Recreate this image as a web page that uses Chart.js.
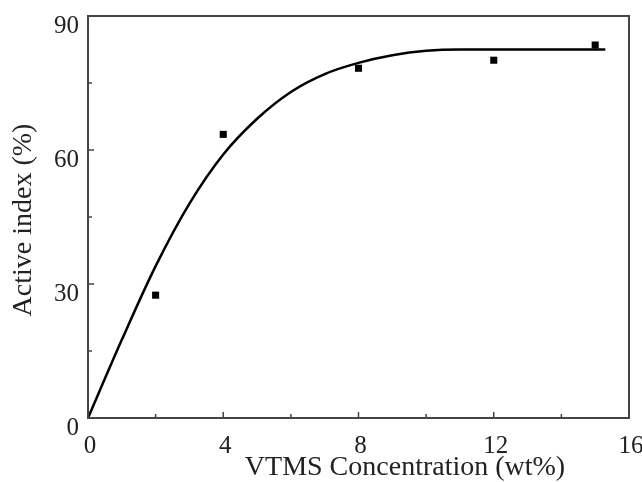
<!DOCTYPE html>
<html>
<head>
<meta charset="utf-8">
<script src="https://cdn.jsdelivr.net/npm/chart.js@4.4.1/dist/chart.umd.min.js"></script>
<style>
  html, body { margin: 0; padding: 0; background: #fff; }
  #wrap { width: 642px; height: 482px; }
</style>
</head>
<body>
<div id="wrap"><canvas id="grafico" width="642" height="482"></canvas></div>
<script>
// dados medidos (pontos quadrados)
const concentracao = [2, 4, 8, 12, 15];
const indiceAtivo = [27.5, 63.5, 78.3, 80.1, 83.5];

// curva ajustada
const curvaX = [0, 1, 2, 3, 4, 5, 6, 7, 8, 9, 10, 11, 12, 13, 14, 15, 15.3];
const curvaY = [0, 17.5, 34, 48, 59, 67, 73, 77, 79.5, 81.2, 82.2, 82.5, 82.5, 82.5, 82.5, 82.5, 82.5];

// ticks
const ticksX = [0, 4, 8, 12, 16];
const ticksY = [0, 30, 60, 90];
const menoresX = [2, 6, 10, 14];
const menoresY = [15, 45, 75];

const tituloX = "VTMS Concentration (wt%)";
const tituloY = "Active index (%)";
const fonte = "'Liberation Serif', 'Times New Roman', serif";

// desenha a moldura, ticks para dentro e titulos dos eixos
const moldura = {
  id: "moldura",
  afterDraw(chart) {
    const ctx = chart.ctx;
    const a = chart.chartArea;
    const sx = chart.scales.x;
    const sy = chart.scales.y;
    ctx.save();
    ctx.strokeStyle = "#444";
    ctx.lineWidth = 2;
    ctx.strokeRect(a.left, a.top, a.right - a.left, a.bottom - a.top);

    ctx.lineWidth = 1.5;
    ctx.beginPath();
    ticksX.forEach((v) => {
      const p = sx.getPixelForValue(v);
      ctx.moveTo(p, a.bottom);
      ctx.lineTo(p, a.bottom - 6);
    });
    menoresX.forEach((v) => {
      const p = sx.getPixelForValue(v);
      ctx.moveTo(p, a.bottom);
      ctx.lineTo(p, a.bottom - 4);
    });
    ticksY.forEach((v) => {
      const p = sy.getPixelForValue(v);
      ctx.moveTo(a.left, p);
      ctx.lineTo(a.left + 6, p);
    });
    menoresY.forEach((v) => {
      const p = sy.getPixelForValue(v);
      ctx.moveTo(a.left, p);
      ctx.lineTo(a.left + 4, p);
    });
    ctx.stroke();

    ctx.fillStyle = "#222";
    ctx.font = "28px " + fonte;
    ctx.textAlign = "center";
    ctx.textBaseline = "middle";
    ctx.fillText(tituloX, 405, 468);

    ctx.translate(24, 220);
    ctx.rotate(-Math.PI / 2);
    ctx.fillText(tituloY, 0, 0);
    ctx.restore();
  },
};

// zera o espaco extra que o Chart.js reserva para os rotulos das pontas
function semPadding(s) {
  s.paddingLeft = 0;
  s.paddingRight = 0;
  s.paddingTop = 0;
  s.paddingBottom = 0;
}

const ctx = document.getElementById("grafico").getContext("2d");

new Chart(ctx, {
  data: {
    datasets: [
      {
        type: "scatter",
        label: "medido",
        data: concentracao.map((x, i) => ({ x: x, y: indiceAtivo[i] })),
        pointStyle: "rect",
        pointRadius: 5,
        backgroundColor: "#000",
        borderColor: "#000",
        borderWidth: 0,
        order: 1,
      },
      {
        type: "line",
        label: "ajuste",
        data: curvaX.map((x, i) => ({ x: x, y: curvaY[i] })),
        borderColor: "#000",
        borderWidth: 2.5,
        pointRadius: 0,
        fill: false,
        cubicInterpolationMode: "monotone",
        order: 2,
      },
    ],
  },
  options: {
    responsive: false,
    animation: false,
    layout: { padding: { left: 0, right: 13, top: 16, bottom: 0 } },
    plugins: {
      legend: { display: false },
      tooltip: { enabled: false },
    },
    scales: {
      x: {
        type: "linear",
        min: 0,
        max: 16,
        grid: { display: false, drawTicks: false },
        border: { display: false },
        afterBuildTicks: (s) => { s.ticks = ticksX.map((v) => ({ value: v })); },
        afterFit: (s) => { s.height = 64; semPadding(s); },
        ticks: {
          padding: 13,
          labelOffset: 2,
          maxRotation: 0,
          color: "#222",
          font: { family: fonte, size: 25 },
        },
      },
      y: {
        type: "linear",
        min: 0,
        max: 90,
        grid: { display: false, drawTicks: false },
        border: { display: false },
        afterBuildTicks: (s) => { s.ticks = ticksY.map((v) => ({ value: v })); },
        afterFit: (s) => { s.width = 88; semPadding(s); },
        ticks: {
          padding: 9,
          labelOffset: 10,
          color: "#222",
          font: { family: fonte, size: 25 },
        },
      },
    },
  },
  plugins: [moldura],
});
</script>
</body>
</html>
